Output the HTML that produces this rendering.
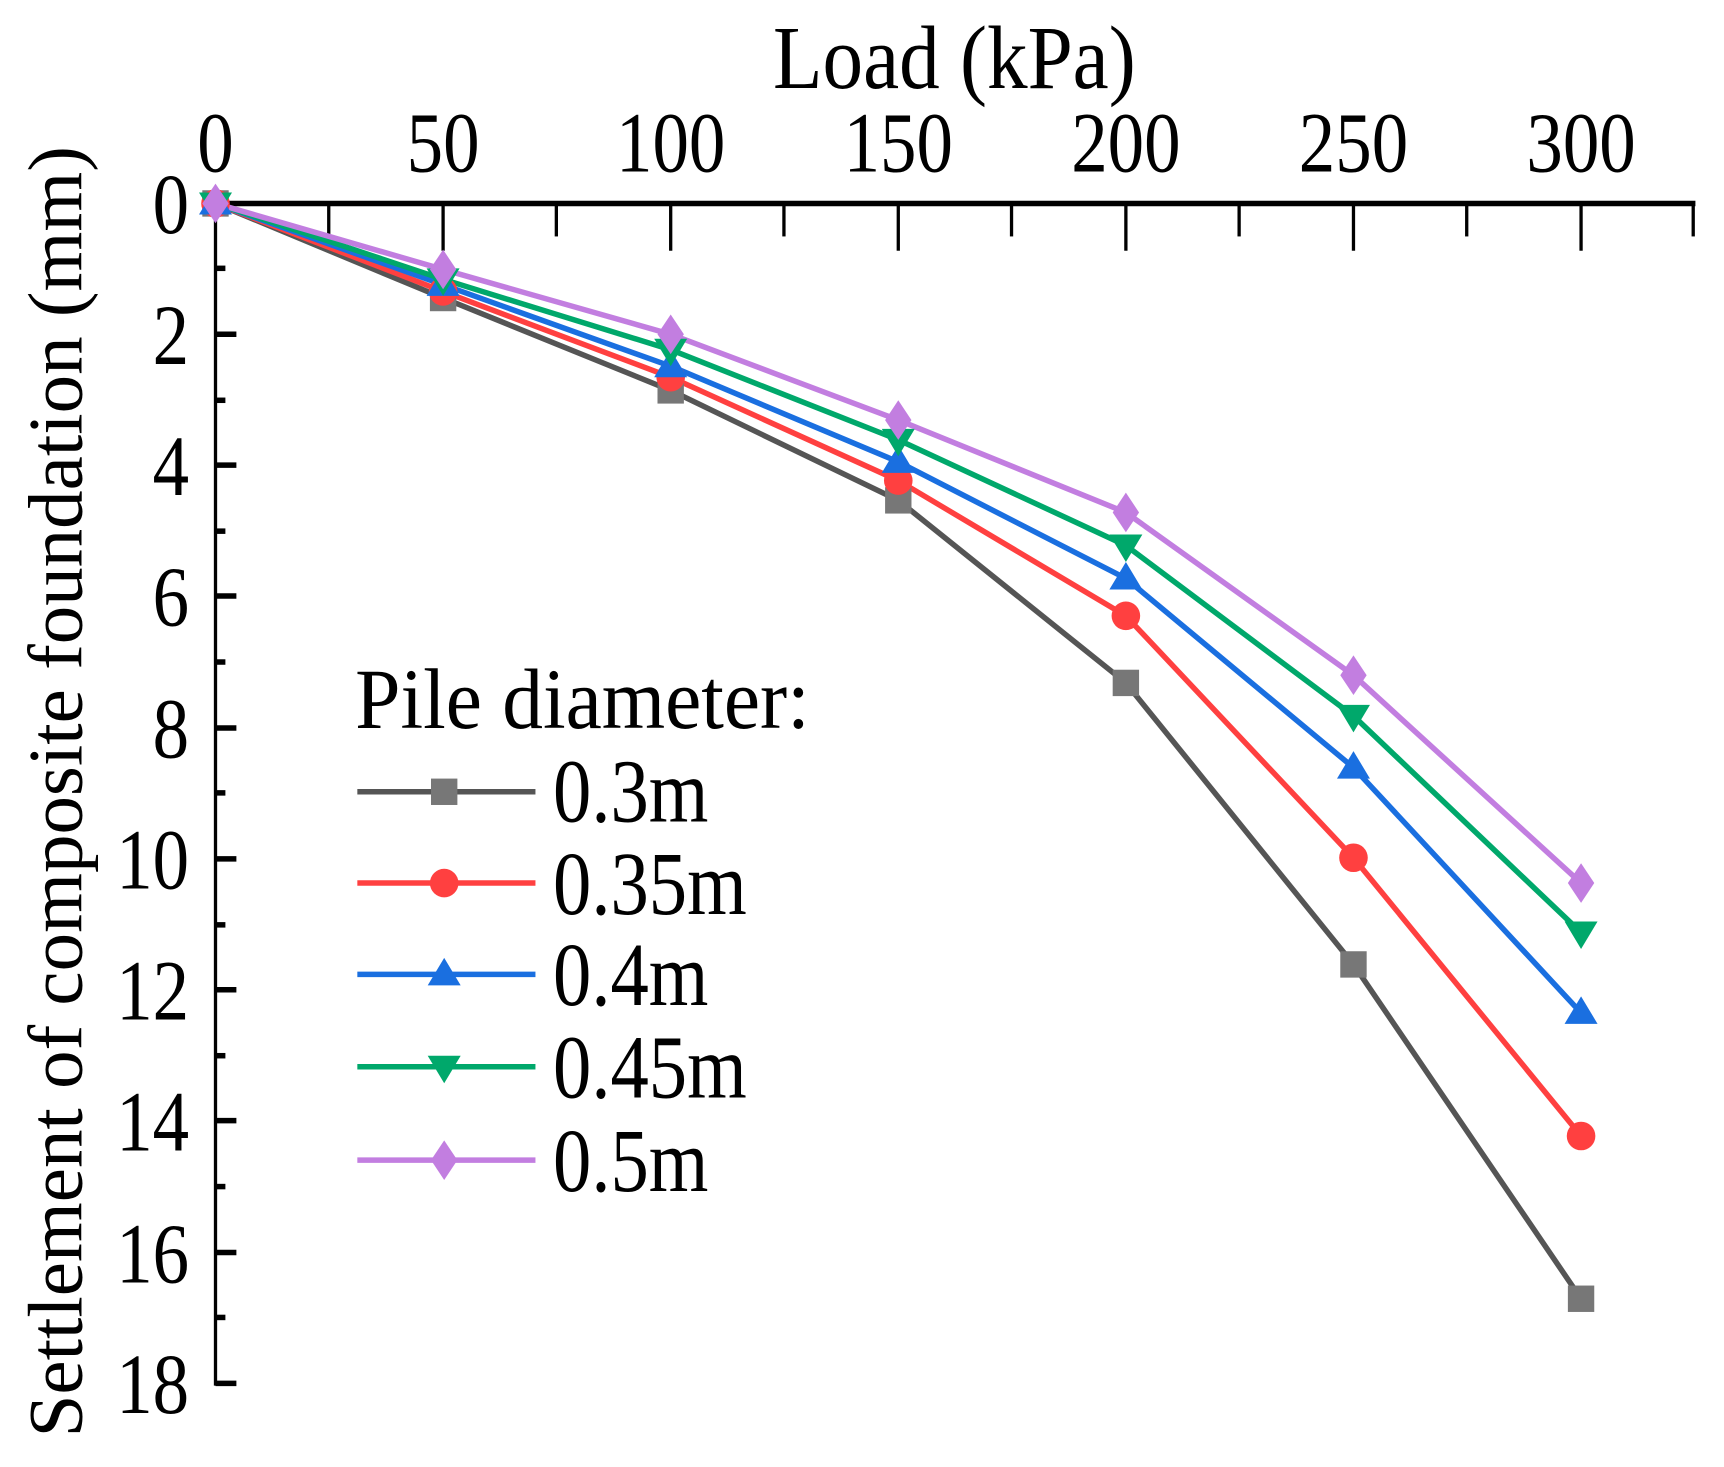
<!DOCTYPE html>
<html><head><meta charset="utf-8"><style>html,body{margin:0;padding:0;background:#fff}svg{display:block}</style></head><body>
<svg width="1724" height="1467" viewBox="0 0 1568 1334" preserveAspectRatio="none" xmlns="http://www.w3.org/2000/svg" font-family="Liberation Serif, serif">
<rect width="1568" height="1334" fill="#fff"/>
<text transform="matrix(0.9,0,0,1,868,80)" font-size="82" text-anchor="middle">Load (kPa)</text>
<g font-size="78" text-anchor="middle">
<text transform="matrix(0.85,0,0,1,196,156)">0</text><text transform="matrix(0.85,0,0,1,403,156)">50</text><text transform="matrix(0.85,0,0,1,610,156)">100</text><text transform="matrix(0.85,0,0,1,817,156)">150</text><text transform="matrix(0.85,0,0,1,1024,156)">200</text><text transform="matrix(0.85,0,0,1,1231,156)">250</text><text transform="matrix(0.85,0,0,1,1438,156)">300</text>
</g>
<g font-size="78" text-anchor="end">
<text transform="matrix(0.85,0,0,1,172,212)">0</text><text transform="matrix(0.85,0,0,1,172,331)">2</text><text transform="matrix(0.85,0,0,1,172,450)">4</text><text transform="matrix(0.85,0,0,1,172,569)">6</text><text transform="matrix(0.85,0,0,1,172,689)">8</text><text transform="matrix(0.85,0,0,1,172,808)">10</text><text transform="matrix(0.85,0,0,1,172,927)">12</text><text transform="matrix(0.85,0,0,1,172,1046)">14</text><text transform="matrix(0.85,0,0,1,172,1166)">16</text><text transform="matrix(0.85,0,0,1,172,1285)">18</text>
</g>
<text transform="translate(74,720) rotate(-90)" font-size="70" text-anchor="middle">Settlement of composite foundation (mm)</text>
<g stroke="#000" stroke-width="3">
<line x1="194" y1="185" x2="1542" y2="185" stroke-width="5"/>
<line x1="196" y1="183" x2="196" y2="1260"/>
<line x1="403" y1="185" x2="403" y2="228"/><line x1="610" y1="185" x2="610" y2="228"/><line x1="817" y1="185" x2="817" y2="228"/><line x1="1024" y1="185" x2="1024" y2="228"/><line x1="1231" y1="185" x2="1231" y2="228"/><line x1="1438" y1="185" x2="1438" y2="228"/>
<line x1="299" y1="185" x2="299" y2="215"/><line x1="506" y1="185" x2="506" y2="215"/><line x1="713" y1="185" x2="713" y2="215"/><line x1="920" y1="185" x2="920" y2="215"/><line x1="1127" y1="185" x2="1127" y2="215"/><line x1="1334" y1="185" x2="1334" y2="215"/><line x1="1540" y1="185" x2="1540" y2="215"/>
<g stroke-width="5">
<line x1="196" y1="304" x2="215" y2="304"/><line x1="196" y1="423" x2="215" y2="423"/><line x1="196" y1="542" x2="215" y2="542"/><line x1="196" y1="662" x2="215" y2="662"/><line x1="196" y1="781" x2="215" y2="781"/><line x1="196" y1="900" x2="215" y2="900"/><line x1="196" y1="1019" x2="215" y2="1019"/><line x1="196" y1="1139" x2="215" y2="1139"/><line x1="196" y1="1258" x2="215" y2="1258"/>
<line x1="196" y1="244" x2="205" y2="244"/><line x1="196" y1="364" x2="205" y2="364"/><line x1="196" y1="483" x2="205" y2="483"/><line x1="196" y1="602" x2="205" y2="602"/><line x1="196" y1="721" x2="205" y2="721"/><line x1="196" y1="841" x2="205" y2="841"/><line x1="196" y1="960" x2="205" y2="960"/><line x1="196" y1="1079" x2="205" y2="1079"/><line x1="196" y1="1198" x2="205" y2="1198"/>
</g></g>
<g fill="none" stroke-width="5" stroke-linejoin="round">
<polyline stroke="#555" points="196,185 403,271 610,355 817,455 1024,621 1231,877 1438,1181"/>
<polyline stroke="#ff4040" points="196,185 403,265 610,343 817,437 1024,560 1231,780 1438,1033"/>
<polyline stroke="#1a6fe0" points="196,185 403,259 610,333 817,420 1024,526 1231,698 1438,921"/>
<polyline stroke="#00a86b" points="196,185 403,254 610,318 817,400 1024,496 1231,651 1438,848"/>
<polyline stroke="#c27ee0" points="196,185 403,245 610,304 817,382 1024,466 1231,614 1438,803"/>
</g>
<g fill="#777"><rect x="184" y="173" width="24" height="24"/><rect x="391" y="259" width="24" height="24"/><rect x="598" y="343" width="24" height="24"/><rect x="805" y="443" width="24" height="24"/><rect x="1012" y="609" width="24" height="24"/><rect x="1219" y="865" width="24" height="24"/><rect x="1426" y="1169" width="24" height="24"/></g>
<g fill="#ff4040"><circle cx="196" cy="185" r="13"/><circle cx="403" cy="265" r="13"/><circle cx="610" cy="343" r="13"/><circle cx="817" cy="437" r="13"/><circle cx="1024" cy="560" r="13"/><circle cx="1231" cy="780" r="13"/><circle cx="1438" cy="1033" r="13"/></g>
<g fill="#1a6fe0"><path d="M196,170l15,25h-30z"/><path d="M403,244l15,25h-30z"/><path d="M610,318l15,25h-30z"/><path d="M817,405l15,25h-30z"/><path d="M1024,511l15,25h-30z"/><path d="M1231,683l15,25h-30z"/><path d="M1438,906l15,25h-30z"/></g>
<g fill="#00a86b"><path d="M196,200l15,-25h-30z"/><path d="M403,269l15,-25h-30z"/><path d="M610,333l15,-25h-30z"/><path d="M817,415l15,-25h-30z"/><path d="M1024,511l15,-25h-30z"/><path d="M1231,666l15,-25h-30z"/><path d="M1438,863l15,-25h-30z"/></g>
<g fill="#c27ee0"><path d="M196,167l12,18l-12,18l-12,-18z"/><path d="M403,227l12,18l-12,18l-12,-18z"/><path d="M610,286l12,18l-12,18l-12,-18z"/><path d="M817,364l12,18l-12,18l-12,-18z"/><path d="M1024,448l12,18l-12,18l-12,-18z"/><path d="M1231,596l12,18l-12,18l-12,-18z"/><path d="M1438,785l12,18l-12,18l-12,-18z"/></g>
<text transform="matrix(0.95,0,0,1,323,662)" font-size="78">Pile diameter:</text>
<g stroke-width="5">
<line x1="325" y1="720" x2="487" y2="720" stroke="#555"/>
<line x1="325" y1="803" x2="487" y2="803" stroke="#ff4040"/>
<line x1="325" y1="886" x2="487" y2="886" stroke="#1a6fe0"/>
<line x1="325" y1="970" x2="487" y2="970" stroke="#00a86b"/>
<line x1="325" y1="1055" x2="487" y2="1055" stroke="#c27ee0"/>
</g>
<rect x="392" y="708" width="24" height="24" fill="#777"/>
<circle cx="404" cy="803" r="13" fill="#ff4040"/>
<path d="M404,871l15,25h-30z" fill="#1a6fe0"/>
<path d="M404,985l15,-25h-30z" fill="#00a86b"/>
<path d="M404,1037l12,18l-12,18l-12,-18z" fill="#c27ee0"/>
<g font-size="82">
<text transform="matrix(0.85,0,0,1,503,747)">0.3m</text><text transform="matrix(0.85,0,0,1,503,831)">0.35m</text><text transform="matrix(0.85,0,0,1,503,914)">0.4m</text><text transform="matrix(0.85,0,0,1,503,998)">0.45m</text><text transform="matrix(0.85,0,0,1,503,1083)">0.5m</text>
</g>
</svg>
</body></html>
